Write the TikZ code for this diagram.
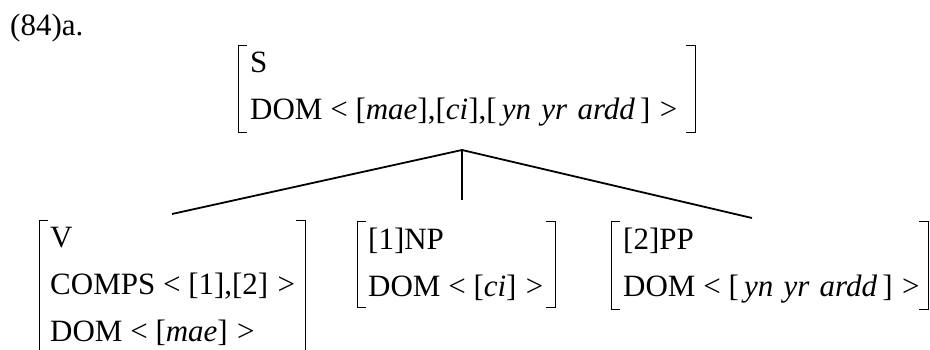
\documentclass[tikz,border=0pt]{standalone}
\usepackage{fontspec}
\setmainfont{Liberation Serif}
\usepackage{tikz}
\usetikzlibrary{positioning,calc}
\tikzstyle{avm}=[align=left,anchor=north west,inner ysep=6pt,font={\fontsize{31}{47}\selectfont}]
\tikzstyle{bracket}=[line width=1pt]
\tikzstyle{branch}=[line width=1.8pt]
\newcommand{\lt}{\nobreak\hspace{0.25em}\nobreak<\nobreak\hspace{0.25em}\nobreak}
\newcommand{\gt}{\nobreak\hspace{0.3em}\nobreak>}
% square brackets round an attribute-value matrix
\newcommand{\avmbrackets}[1]{%
  \draw[bracket] ([xshift=9pt]#1.north west) -- (#1.north west) -- (#1.south west) -- ([xshift=9pt]#1.south west);
  \draw[bracket] ([xshift=-9pt]#1.north east) -- (#1.north east) -- (#1.south east) -- ([xshift=-9pt]#1.south east);}

\begin{document}
\begin{tikzpicture}[x=1pt,y=-1pt]
\useasboundingbox (0,0) rectangle (930,350);

\node[anchor=base west,inner sep=0pt,font={\fontsize{31}{36}\selectfont}] (ex) at (10,36) {(84)a.};

\node[avm,inner xsep=12pt,text width=433pt] (s) at (238,46)
 {S\\DOM\lt[\textit{mae}],[\textit{ci}],[\,\textit{yn~yr~ardd}\,]\gt};

\node[avm,inner xsep=11pt,text width=244pt] (v) at (39,221)
 {V\\COMPS\lt[1],[2]\gt\\DOM\lt[\textit{mae}]\gt};
\node[avm,inner xsep=11pt,text width=176pt] (np) at (357,222)
 {[1]NP\\DOM\lt[\textit{ci}]\gt};
\node[avm,inner xsep=12pt,text width=293pt] (pp) at (611,222)
 {[2]PP\\DOM\lt[\,\textit{yn~yr~ardd}\,]\gt};

\avmbrackets{s}
\avmbrackets{v}
\avmbrackets{np}
\avmbrackets{pp}

\coordinate (top) at (462,150);
\coordinate (vtop) at (172,214);
\coordinate (nptop) at (462,200);
\coordinate (pptop) at (752,218);

\path
(top) edge [branch] (vtop)
(top) edge [branch] (nptop)
(top) edge [branch] (pptop);

\end{tikzpicture}
\end{document}
